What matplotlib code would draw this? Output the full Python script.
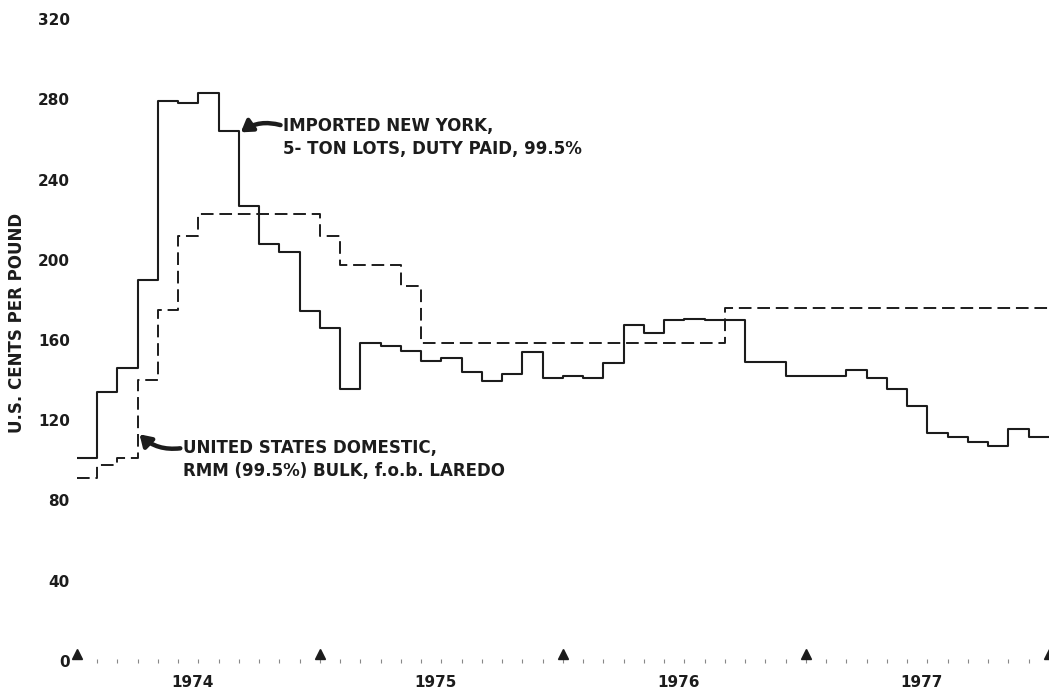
import numpy as np
import matplotlib
matplotlib.use("Agg")
import matplotlib.pyplot as plt

# monthly prices, Jan 1974 .. Dec 1977 (U.S. cents per pound)
imported_ny = [101, 134, 146, 190, 279, 278, 283, 264, 227, 208, 204, 174.5,
               166, 135.5, 158.5, 157, 154.5, 149.5, 151, 144, 139.5, 143, 154, 141,
               142, 141, 148.5, 167.5, 163.5, 170, 170.5, 170, 170, 149, 149, 142,
               142, 142, 145, 141, 135.5, 127, 113.5, 111.5, 109, 107, 115.5, 111.5]
us_domestic = [91, 97.5, 101, 140, 175, 212, 223, 223, 223, 223, 223, 223,
               212, 197.5, 197.5, 197.5, 187, 158.5, 158.5, 158.5, 158.5, 158.5, 158.5, 158.5,
               158.5, 158.5, 158.5, 158.5, 158.5, 158.5, 158.5, 158.5, 176, 176, 176, 176,
               176, 176, 176, 176, 176, 176, 176, 176, 176, 176, 176, 176]
years = ["1974", "1975", "1976", "1977"]
y_ticks = [0, 40, 80, 120, 160, 200, 240, 280, 320]

label_ny = "IMPORTED NEW YORK,\n5- TON LOTS, DUTY PAID, 99.5%"
label_us = "UNITED STATES DOMESTIC,\nRMM (99.5%) BULK, f.o.b. LAREDO"

W, H = 1049, 688
fig = plt.figure(figsize=(W / 100, H / 100), dpi=100)
# axes placed so month 0 sits at x=77px, value 0 at y=661px, 320 at y=19px
ax = fig.add_axes([76.75 / W, (H - 661) / H, 1 - 76.75 / W, 642 / H])

ink = "#1c1c1c"
font = dict(family="DejaVu Sans", weight="bold", color=ink)

months = np.arange(len(imported_ny) + 1)
ax.step(months, imported_ny + imported_ny[-1:], where="post",
        color=ink, lw=1.5)
ax.step(months, us_domestic + us_domestic[-1:], where="post",
        color=ink, lw=1.4, dashes=(6.5, 3))

ax.set_xlim(0, (W - 76.75) / 20.25)
ax.set_ylim(0, 320)

# baseline: small month marks and year arrows
ax.plot(months[1:-1], np.zeros(len(months) - 2), ls="none", marker="|",
        ms=3, mew=0.8, color="#888888", clip_on=False)
ax.plot(months[::12], np.full(len(months[::12]), 3.5), ls="none", marker="^",
        ms=6.5, color=ink, clip_on=False)

for i, yr in enumerate(years):
    ax.text(5.7 + 12 * i, -10.5, yr, ha="center", va="center",
            fontsize=11, **font)

ax.set_yticks(y_ticks)
ax.set_yticklabels([str(v) for v in y_ticks], fontsize=11, **font)
ax.tick_params(axis="y", length=0, pad=5)
ax.set_xticks([])
for s in ax.spines.values():
    s.set_visible(False)

fig.text(17 / W, (H - 323) / H, "U.S. CENTS PER POUND", rotation=90,
         ha="center", va="center", fontsize=12, **font)

ax.annotate(label_ny, xy=(8.1, 263.5), xytext=(10.2, 261),
            ha="left", va="center", fontsize=12, linespacing=1.35, **font,
            arrowprops=dict(arrowstyle="-|>,head_length=0.55,head_width=0.35",
                            color=ink, lw=3.2, shrinkA=0, shrinkB=0,
                            connectionstyle="arc3,rad=0.25",
                            relpos=(0, 0.78)))
ax.annotate(label_us, xy=(3.1, 113), xytext=(5.25, 100.5),
            ha="left", va="center", fontsize=12, linespacing=1.35, **font,
            arrowprops=dict(arrowstyle="-|>,head_length=0.55,head_width=0.35",
                            color=ink, lw=3.2, shrinkA=0, shrinkB=0,
                            connectionstyle="arc3,rad=-0.25",
                            relpos=(0, 0.78)))

fig.savefig("out.png", dpi=100, facecolor="white")
